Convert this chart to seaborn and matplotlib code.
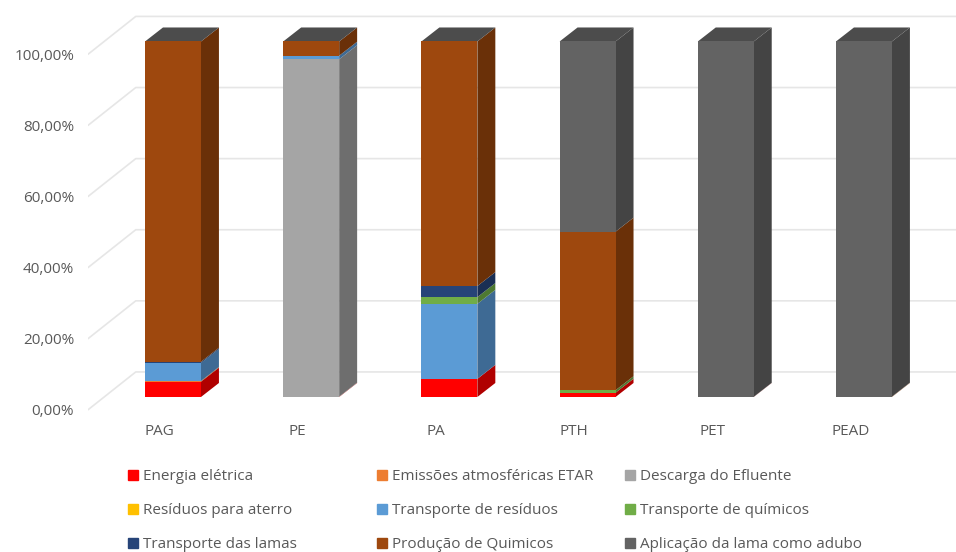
import numpy as np
import pandas as pd
import matplotlib
matplotlib.use("Agg")
import matplotlib.pyplot as plt
from matplotlib.patches import Patch
import seaborn as sns

# Percentage contribution of each process to every coagulant / polymer
products = ["PAG", "PE", "PA", "PTH", "PET", "PEAD"]
energia = [4.3, 0.1, 5.1, 1.2, 0.05, 0.0]
emissoes = [0.2, 0.0, 0.0, 0.0, 0.0, 0.1]
descarga = [0.0, 94.9, 0.0, 0.0, 0.0, 0.0]
residuos_aterro = [0.0, 0.0, 0.0, 0.0, 0.0, 0.0]
transp_residuos = [5.1, 1.0, 21.1, 0.0, 0.0, 0.0]
transp_quimicos = [0.0, 0.0, 1.9, 0.7, 0.0, 0.0]
transp_lamas = [0.3, 0.0, 3.1, 0.0, 0.0, 0.0]
prod_quimicos = [90.1, 4.0, 68.8, 44.6, 0.0, 0.0]
aplicacao_lama = [0.0, 0.0, 0.0, 53.5, 99.95, 99.9]

series_names = [
    "Energia elétrica", "Emissões atmosféricas ETAR", "Descarga do Efluente",
    "Resíduos para aterro", "Transporte de resíduos", "Transporte de químicos",
    "Transporte das lamas", "Produção de Quimicos", "Aplicação da lama como adubo",
]
series_values = [
    energia, emissoes, descarga, residuos_aterro, transp_residuos,
    transp_quimicos, transp_lamas, prod_quimicos, aplicacao_lama,
]
series_colors = [
    "#FF0000", "#ED7D31", "#A5A5A5", "#FFC000", "#5B9BD5",
    "#70AD47", "#264478", "#9E480E", "#636363",
]
side_colors = [
    "#B00000", "#A65722", "#6E6E6E", "#B38600", "#3E6A94",
    "#4E7932", "#1A2F54", "#6A3008", "#444444",
]
y_ticks = [0, 20, 40, 60, 80, 100]
y_tick_labels = ["0,00%", "20,00%", "40,00%", "60,00%", "80,00%", "100,00%"]

TEXT = "#595959"
GRID = "#E6E6E6"
BAR_WIDTH = 0.405
DEPTH_X, DEPTH_Y = 0.13, 3.94     # extrusion of the bars
WALL_X, WALL_Y = -0.27, 7.05      # back wall position relative to the floor front
LABEL_DROP = 3.6                  # axis labels sit slightly below the value they name

sns.set_theme(style="white")
plt.rcParams["font.family"] = ["Open Sans", "DejaVu Sans"]

fig = plt.figure(figsize=(9.56, 5.52), dpi=100)
ax = fig.add_axes([88 / 956, 1 - 420 / 552, (956 - 88) / 956, 420 / 552])

frame = pd.DataFrame({"product": products})
bottom = np.zeros(len(products))
for name, values, color, side in zip(series_names, series_values, series_colors, side_colors):
    values = np.array(values, dtype=float)
    frame["value"] = values
    sns.barplot(
        data=frame, x="product", y="value", color=color, saturation=1,
        width=BAR_WIDTH, bottom=bottom, ax=ax, linewidth=0, errorbar=None, zorder=3,
    )
    # right-hand face of each stacked segment
    for i, (b, v) in enumerate(zip(bottom, values)):
        if v > 0:
            x0 = i + BAR_WIDTH / 2
            ax.fill(
                [x0, x0 + DEPTH_X, x0 + DEPTH_X, x0],
                [b, b + DEPTH_Y, b + v + DEPTH_Y, b + v],
                color=side, linewidth=0, zorder=2,
            )
    bottom = bottom + values

# lid of every column
for i, total in enumerate(bottom):
    x0, x1 = i - BAR_WIDTH / 2, i + BAR_WIDTH / 2
    ax.fill(
        [x0, x1, x1 + DEPTH_X, x0 + DEPTH_X],
        [total, total, total + DEPTH_Y, total + DEPTH_Y],
        color="#4C4C4C", linewidth=0, zorder=2,
    )

xmin, xmax = -0.615, 5.666
ax.set_xlim(xmin, xmax)
ax.set_ylim(-6.47, 111.67)

# gridlines fold from the side wall onto the back wall
for v in y_ticks:
    ax.plot(
        [xmin, xmin - WALL_X * 1.28, xmax],
        [v - LABEL_DROP, v + WALL_Y, v + WALL_Y],
        color=GRID, linewidth=1.2, zorder=1, solid_joinstyle="round",
    )

ax.set_yticks(np.array(y_ticks) - LABEL_DROP, y_tick_labels)
ax.set_xticks(np.arange(len(products)) - 0.098, products)
ax.set_xlabel("")
ax.set_ylabel("")
ax.tick_params(axis="y", length=0, pad=10, labelsize=11, labelcolor=TEXT)
ax.tick_params(axis="x", length=0, pad=3, labelsize=11, labelcolor=TEXT)
for spine in ax.spines.values():
    spine.set_visible(False)
ax.patch.set_alpha(0)

# legend laid out as three independent columns
columns = [(128, [0, 3, 6]), (377, [1, 4, 7]), (625, [2, 5, 8])]
for left, members in columns:
    handles = [Patch(color=series_colors[k], label=series_names[k]) for k in members]
    fig.legend(
        handles=handles, loc="upper left", bbox_to_anchor=(left / 956, 1 - 469 / 552),
        frameon=False, borderpad=0, borderaxespad=0, handlelength=0.65, handleheight=0.65,
        handletextpad=0.35, labelspacing=1.25, fontsize=11, labelcolor=TEXT,
    )

fig.savefig("out.png", dpi=100, facecolor="white")
